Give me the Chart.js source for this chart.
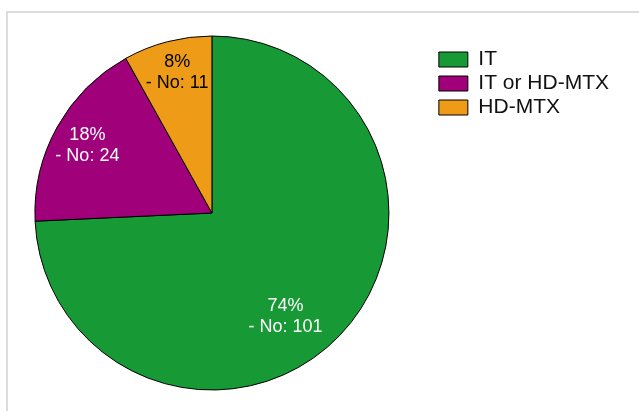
<!DOCTYPE html>
<html>
<head>
<meta charset="utf-8">
<script src="https://cdn.jsdelivr.net/npm/chart.js@4.4.0/dist/chart.umd.min.js"></script>
<style>
  html, body { margin: 0; padding: 0; background: #fff; overflow: hidden; }
  .frame {
    position: absolute; left: 6px; top: 11px; width: 640px; height: 410px;
    border-top: 2px solid #dcdcdc; border-left: 2px solid #dcdcdc;
  }
  .box { position: relative; width: 631px; height: 398px; }
</style>
</head>
<body>
<div class="frame"><div class="box"><canvas id="chart-pie"></canvas></div></div>
<script>
// data
const categories = ['IT', 'IT or HD-MTX', 'HD-MTX'];
const counts = [101, 24, 11];
const sliceColors = ['#179a36', '#a0007a', '#ee9c18'];
const labelColors = ['#ffffff', '#ffffff', '#000000'];

// where each slice's text sits: angle shift (deg) and radius fraction
const labelShift = [11, -0.7, 0.7];
const labelRadius = [0.72, 0.8, 0.82];

// the pie sits a bit left of the plain layout centre
const PIE_SHIFT = 20;

const FONT = '"Liberation Sans", Arial, Helvetica, sans-serif';

const pieNudge = {
    id: 'pieNudge',
    afterLayout(chart) {
        const a = chart.chartArea;
        a.left -= PIE_SHIFT;
        a.width = a.right - a.left;
    }
};

const sliceLabels = {
    id: 'sliceLabels',
    afterDatasetsDraw(chart) {
        const ctx = chart.ctx;
        const meta = chart.getDatasetMeta(0);
        const total = counts.reduce((a, b) => a + b, 0);

        meta.data.forEach((arc, i) => {
            const p = arc.getProps(['x', 'y', 'startAngle', 'endAngle', 'outerRadius'], true);
            const mid = (p.startAngle + p.endAngle) / 2 + labelShift[i] * Math.PI / 180;
            const r = p.outerRadius * labelRadius[i];
            const x = p.x + Math.cos(mid) * r;
            const y = p.y + Math.sin(mid) * r;
            const pct = Math.round(counts[i] / total * 100) + '%';

            ctx.save();
            ctx.font = '18px ' + FONT;
            ctx.fillStyle = labelColors[i];
            ctx.textAlign = 'center';
            ctx.textBaseline = 'middle';
            ctx.fillText(pct, x, y - 10.5);
            ctx.fillText('- No: ' + counts[i], x, y + 10.5);
            ctx.restore();
        });
    }
};

document.addEventListener('DOMContentLoaded', function () {
    const ctx = document.getElementById('chart-pie').getContext('2d');

    new Chart(ctx, {
        type: 'pie',
        data: {
            labels: categories,
            datasets: [{
                data: counts,
                backgroundColor: sliceColors,
                borderColor: '#000000',
                borderWidth: 1,
                radius: 177,
                clip: false
            }]
        },
        options: {
            responsive: true,
            maintainAspectRatio: false,
            animation: false,
            layout: {
                padding: { left: 0, right: 20, top: 33, bottom: 31 }
            },
            plugins: {
                tooltip: { enabled: false },
                legend: {
                    position: 'right',
                    align: 'start',
                    labels: {
                        boxWidth: 29,
                        boxHeight: 15,
                        padding: 3,
                        color: '#111111',
                        font: { size: 21, family: FONT }
                    }
                }
            }
        },
        plugins: [pieNudge, sliceLabels]
    });
});
</script>
</body>
</html>
